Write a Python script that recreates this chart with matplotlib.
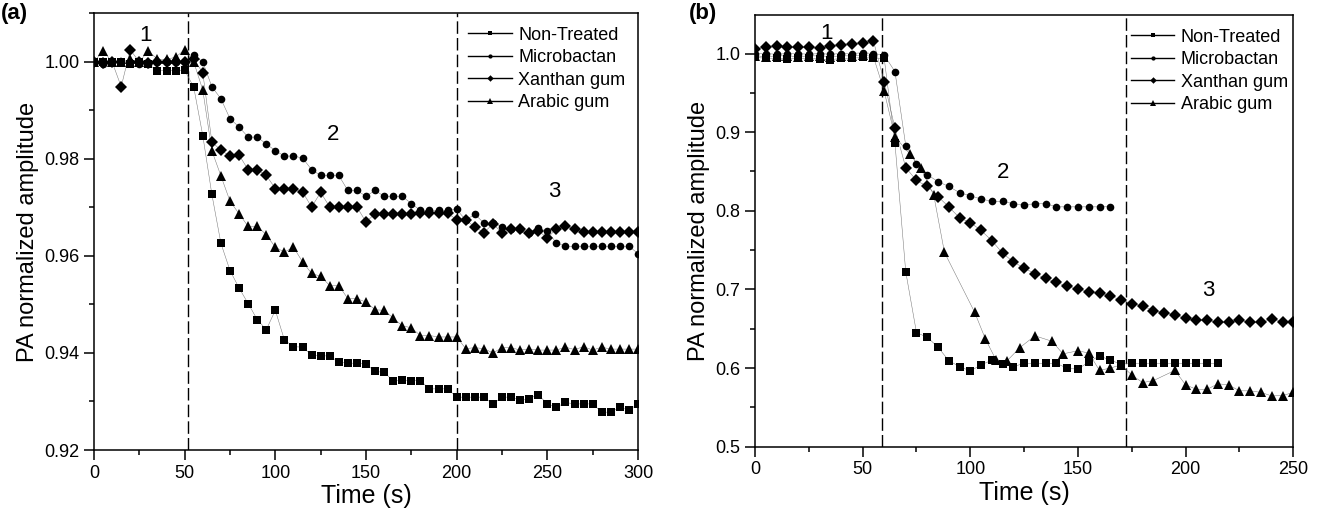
import numpy as np
import matplotlib
matplotlib.use("Agg")
import matplotlib.pyplot as plt
from matplotlib.ticker import MultipleLocator

plt.rcParams['font.family'] = ['Liberation Sans', 'DejaVu Sans']

# ---- panel (a) data, 5 s sampling ----
t_a = list(range(0, 305, 5))
a_non = [1.0, 1.0, 1.0, 1.0, 0.9995, 1.0, 0.9995, 0.9982, 0.9982, 0.9982, 0.9983, 0.9948,
         0.9848, 0.9727, 0.9626, 0.9570, 0.9534, 0.9502, 0.9469, 0.9448, 0.9488, 0.9427,
         0.9413, 0.9412, 0.9396, 0.9394, 0.9394, 0.9381, 0.9379, 0.9379, 0.9377, 0.9362,
         0.9360, 0.9343, 0.9344, 0.9343, 0.9343, 0.9326, 0.9326, 0.9326, 0.9309, 0.9309,
         0.9309, 0.9309, 0.9295, 0.9309, 0.9309, 0.9303, 0.9306, 0.9314, 0.9295, 0.9288,
         0.9298, 0.9295, 0.9295, 0.9295, 0.9278, 0.9278, 0.9288, 0.9282, 0.9295]
a_micro = [1.0, 0.9995, 1.0, 1.0, 1.0, 0.9995, 0.9995, 1.0, 1.0, 1.0, 1.0, 1.0014,
           1.0, 0.9949, 0.9924, 0.9883, 0.9866, 0.9845, 0.9845, 0.9831, 0.9817, 0.9806,
           0.9806, 0.9802, 0.9778, 0.9766, 0.9766, 0.9766, 0.9735, 0.9735, 0.9723, 0.9735,
           0.9723, 0.9723, 0.9723, 0.9708, 0.9694, 0.9694, 0.9694, 0.9694, 0.9696, 0.9674,
           0.9686, 0.9668, 0.9668, 0.9660, 0.9656, 0.9655, 0.9648, 0.9657, 0.9651, 0.9627,
           0.9620, 0.9620, 0.9620, 0.9620, 0.9620, 0.9620, 0.9620, 0.9620, 0.9605]
a_xan = [1.0, 0.9997, 1.0, 0.9949, 1.0025, 1.0, 0.9998, 1.0, 1.0, 1.0, 1.0, 1.0005,
         0.9978, 0.9835, 0.9818, 0.9806, 0.9808, 0.9778, 0.9778, 0.9766, 0.9739, 0.9739,
         0.9739, 0.9732, 0.9701, 0.9731, 0.9701, 0.9701, 0.9701, 0.9701, 0.9670, 0.9687,
         0.9687, 0.9687, 0.9687, 0.9687, 0.9688, 0.9688, 0.9688, 0.9688, 0.9675, 0.9674,
         0.9660, 0.9648, 0.9666, 0.9648, 0.9655, 0.9655, 0.9648, 0.9652, 0.9637, 0.9656,
         0.9661, 0.9656, 0.9649, 0.9649, 0.9649, 0.9649, 0.9649, 0.9649, 0.9649]
a_arab = [1.0, 1.0023, 1.0, 1.0, 1.0005, 1.0, 1.0023, 1.0005, 1.0005, 1.001, 1.0025, 1.0,
          0.9942, 0.9817, 0.9765, 0.9713, 0.9687, 0.9661, 0.9661, 0.9644, 0.9618, 0.9608,
          0.9618, 0.9588, 0.9564, 0.9558, 0.9539, 0.9539, 0.9512, 0.9512, 0.9505, 0.9489,
          0.9488, 0.9472, 0.9456, 0.9452, 0.9436, 0.9436, 0.9433, 0.9433, 0.9433, 0.9409,
          0.9411, 0.9409, 0.9400, 0.9411, 0.9411, 0.9406, 0.9408, 0.9406, 0.9406, 0.9406,
          0.9412, 0.9407, 0.9413, 0.9406, 0.9412, 0.9408, 0.9408, 0.9408, 0.9408]

# ---- panel (b) data ----
tb_non = list(range(0, 220, 5))
b_non = [0.995, 0.994, 0.994, 0.993, 0.994, 0.994, 0.993, 0.992, 0.994, 0.994, 0.995, 0.994,
         0.994, 0.886, 0.7226, 0.645, 0.6392, 0.6265, 0.6094, 0.6018, 0.5963, 0.604, 0.610,
         0.6052, 0.6018, 0.606, 0.606, 0.606, 0.606, 0.5997, 0.5985, 0.608, 0.6154, 0.610,
         0.605, 0.606, 0.606, 0.606, 0.606, 0.606, 0.606, 0.606, 0.606, 0.606]
tb_micro = list(range(0, 170, 5))
b_micro = [1.0, 1.0, 0.999, 1.0, 1.0, 0.999, 1.0, 0.999, 1.0, 1.0, 1.001, 1.0,
           0.998, 0.977, 0.883, 0.860, 0.846, 0.837, 0.831, 0.823, 0.819, 0.815, 0.812,
           0.812, 0.809, 0.8075, 0.809, 0.809, 0.805, 0.805, 0.805, 0.805, 0.805, 0.8053]
tb_xan = list(range(0, 255, 5))
b_xan = [1.006, 1.008, 1.010, 1.008, 1.008, 1.008, 1.007, 1.009, 1.011, 1.012, 1.013, 1.016,
         0.964, 0.905, 0.855, 0.8385, 0.831, 0.818, 0.805, 0.791, 0.785, 0.775, 0.762,
         0.746, 0.735, 0.727, 0.720, 0.714, 0.709, 0.704, 0.700, 0.697, 0.695, 0.692,
         0.686, 0.682, 0.679, 0.673, 0.6705, 0.6676, 0.663, 0.661, 0.661, 0.658, 0.658,
         0.661, 0.658, 0.658, 0.662, 0.659, 0.658]
tb_arab = [0, 5, 10, 15, 20, 25, 30, 35, 40, 45, 50, 55, 60, 65, 72, 77, 83, 88, 102, 107,
           112, 117, 123, 130, 138, 143, 150, 155, 160, 165, 170, 175, 180, 185, 195, 200,
           205, 210, 215, 220, 225, 230, 235, 240, 245, 250]
b_arab = [0.997, 0.996, 0.997, 0.997, 0.996, 0.997, 0.997, 0.996, 0.997, 0.997, 0.998, 0.996,
          0.952, 0.894, 0.872, 0.854, 0.820, 0.747, 0.671, 0.637, 0.610, 0.609, 0.626, 0.641,
          0.634, 0.618, 0.622, 0.619, 0.597, 0.600, 0.604, 0.591, 0.5815, 0.584, 0.597,
          0.5785, 0.573, 0.573, 0.580, 0.5785, 0.571, 0.571, 0.569, 0.5645, 0.565, 0.569]

labels = ['Non-Treated', 'Microbactan', 'Xanthan gum', 'Arabic gum']
markers = ['s', 'o', 'D', '^']
msizes = [6, 5.5, 6, 7.5]

fig = plt.figure(figsize=(13.22, 5.13), dpi=100)
ax_a = fig.add_axes([0.0711, 0.1228, 0.4115, 0.852])
ax_b = fig.add_axes([0.5711, 0.1293, 0.4072, 0.8415])

series_a = [(t_a, a_non), (t_a, a_micro), (t_a, a_xan), (t_a, a_arab)]
series_b = [(tb_non, b_non), (tb_micro, b_micro), (tb_xan, b_xan), (tb_arab, b_arab)]

for ax, series in [(ax_a, series_a), (ax_b, series_b)]:
    for (tt, yy), lab, mk, ms in zip(series, labels, markers, msizes):
        # very thin joining line, as in the original (barely visible)
        ax.plot(tt, yy, color='0.45', lw=0.35, zorder=2)
        ax.plot(tt, yy, color='black', lw=0, marker=mk, ms=ms,
                markeredgewidth=0, zorder=3)
        ax.plot([], [], color='black', lw=1.0, marker=mk, ms=ms * 0.55,
                markeredgewidth=0, label=lab)
    ax.tick_params(which='major', direction='out', length=7, width=1.1, labelsize=13)
    ax.tick_params(which='minor', direction='out', length=3.5, width=1.1)
    for s in ax.spines.values():
        s.set_linewidth(1.1)
    ax.set_xlabel('Time (s)', fontsize=18, labelpad=2)
    ax.set_ylabel('PA normalized amplitude', fontsize=17, labelpad=4)
    ax.legend(loc='upper left', frameon=False, fontsize=13,
              handlelength=2.4, handletextpad=0.35, labelspacing=0.3,
              borderaxespad=0)

# panel (a) axes
ax_a.set_xlim(0, 300)
ax_a.set_ylim(0.92, 1.0101)
ax_a.xaxis.set_major_locator(MultipleLocator(50))
ax_a.xaxis.set_minor_locator(MultipleLocator(25))
ax_a.yaxis.set_major_locator(MultipleLocator(0.02))
ax_a.yaxis.set_minor_locator(MultipleLocator(0.01))
ax_a.yaxis.set_major_formatter(matplotlib.ticker.FormatStrFormatter('%.2f'))
for xv in [52, 200]:
    ax_a.axvline(xv, color='black', lw=1, dashes=(9, 3), zorder=1)
ax_a.text(28.5, 1.0055, '1', fontsize=16, ha='center', va='center')
ax_a.text(132, 0.985, '2', fontsize=16, ha='center', va='center')
ax_a.text(254, 0.9732, '3', fontsize=16, ha='center', va='center')
ax_a.get_legend().set_bbox_to_anchor((0.675, 0.985))

# panel (b) axes
ax_b.set_xlim(0, 250)
ax_b.set_ylim(0.5, 1.049)
ax_b.xaxis.set_major_locator(MultipleLocator(50))
ax_b.xaxis.set_minor_locator(MultipleLocator(25))
ax_b.yaxis.set_major_locator(MultipleLocator(0.1))
ax_b.yaxis.set_minor_locator(MultipleLocator(0.05))
ax_b.yaxis.set_major_formatter(matplotlib.ticker.FormatStrFormatter('%.1f'))
for xv in [59, 172.5]:
    ax_b.axvline(xv, color='black', lw=1, dashes=(9, 3), zorder=1)
ax_b.text(33, 1.025, '1', fontsize=16, ha='center', va='center')
ax_b.text(115, 0.849, '2', fontsize=16, ha='center', va='center')
ax_b.text(210.5, 0.699, '3', fontsize=16, ha='center', va='center')
ax_b.get_legend().set_bbox_to_anchor((0.685, 0.985))

fig.text(0.001, 0.995, '(a)', fontsize=16, fontweight='bold', va='top', ha='left')
fig.text(0.521, 0.995, '(b)', fontsize=16, fontweight='bold', va='top', ha='left')

fig.savefig('out.png', dpi=100)
